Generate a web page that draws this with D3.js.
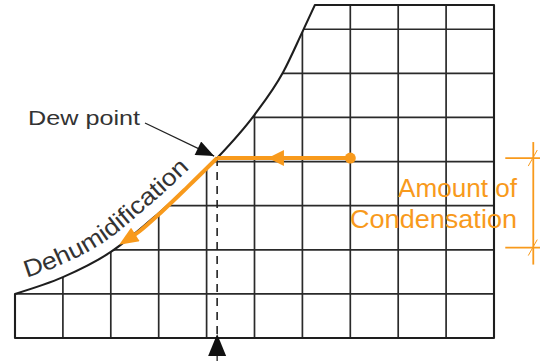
<!DOCTYPE html>
<html>
<head>
<meta charset="utf-8">
<script src="https://cdn.jsdelivr.net/npm/d3@7"></script>
<style>
  html, body { margin: 0; padding: 0; background: #fff; }
  svg { display: block; }
</style>
</head>
<body>
<script>
// grid of the chart, in chart units
const gridCols = [0, 1, 2, 3, 4, 5, 6, 7, 8, 9, 10];
const gridRows = [0, 1, 2, 3, 4, 5, 6, 7];
const topRow = 7.55;

// saturation curve
const satX = [0, 1, 2, 3, 3.6, 4.22, 5, 5.6, 6, 6.26];
const satY = [1.0, 1.38, 1.95, 2.83, 3.42, 4.08, 5.06, 6.03, 6.94, 7.55];

// cooling path: start point -> dew point -> along the curve
const dewPoint = { x: 4.22, y: 4.08 };
const startPoint = { x: 7, y: 4.08 };
const midArrowX = 5.28;
const dehumX = [4.22, 3.6, 3.03, 2.6, 2.4];
const dehumY = [4.08, 3.42, 2.83, 2.42, 2.27];

// amount of condensation (humidity from / to)
const condensY = [4.08, 2.05];
const dimX = 10.82;

const width = 540;
const height = 361;
const orange = "#f89a1c";

const x = d3.scaleLinear().domain([0, 10]).range([15, 494]);
const y = d3.scaleLinear().domain([0, topRow]).range([338, 5]);

const svg = d3.select("body").append("svg")
  .attr("width", width)
  .attr("height", height)
  .style("font-family", "'Liberation Sans', Arial, sans-serif");

const defs = svg.append("defs");

const satPoints = satX.map((d, i) => [d, satY[i]]);
const satLine = d3.line().x(d => x(d[0])).y(d => y(d[1])).curve(d3.curveMonotoneX);

// outline = area under the curve
const clipD = "M" + x(0) + "," + y(0) + "L" + x(0) + "," + y(satY[0]) +
  satLine(satPoints).slice(1).replace(/^[\d.,-]+/, m => "L" + m) +
  "L" + x(10) + "," + y(topRow) + "L" + x(10) + "," + y(0) + "Z";

defs.append("clipPath").attr("id", "area")
  .append("path").attr("d", clipD);

const grid = svg.append("g").attr("clip-path", "url(#area)")
  .attr("stroke", "#2a2a2a").attr("stroke-width", 1.7);

grid.selectAll("line.col").data(gridCols.slice(1, -1)).enter().append("line")
  .attr("class", "col")
  .attr("x1", d => x(d)).attr("x2", d => x(d))
  .attr("y1", y(0)).attr("y2", y(topRow));

grid.selectAll("line.row").data(gridRows.slice(1)).enter().append("line")
  .attr("class", "row")
  .attr("x1", x(0)).attr("x2", x(10))
  .attr("y1", d => y(d)).attr("y2", d => y(d));

// border and saturation curve
svg.append("path")
  .attr("d", clipD)
  .attr("fill", "none")
  .attr("stroke", "#1e1e1e")
  .attr("stroke-width", 2.1)
  .attr("stroke-linejoin", "round");

// dashed dew point line
svg.append("line")
  .attr("x1", x(dewPoint.x)).attr("x2", x(dewPoint.x))
  .attr("y1", y(dewPoint.y)).attr("y2", y(0) + 4)
  .attr("stroke", "#222")
  .attr("stroke-width", 1.6)
  .attr("stroke-dasharray", "8,6");

// arrow under the axis
svg.append("path")
  .attr("d", `M${x(dewPoint.x)},${y(0) - 4} L${x(dewPoint.x) - 9},${y(0) + 18} L${x(dewPoint.x) + 9},${y(0) + 18} Z`)
  .attr("fill", "#111");
svg.append("line")
  .attr("x1", x(dewPoint.x)).attr("x2", x(dewPoint.x))
  .attr("y1", y(0) + 18).attr("y2", height)
  .attr("stroke", "#111").attr("stroke-width", 1.2);

// Dehumidification text along the curve
const satPath = svg.append("path").attr("d", satLine(satPoints)).attr("fill", "none").attr("stroke", "none");
const total = satPath.node().getTotalLength();
const offsetPts = [];
for (let s = 0; s <= total; s += 2) {
  const p0 = satPath.node().getPointAtLength(Math.max(0, s - 2));
  const p1 = satPath.node().getPointAtLength(Math.min(total, s + 2));
  const p = satPath.node().getPointAtLength(s);
  const dx = p1.x - p0.x, dy = p1.y - p0.y;
  const len = Math.hypot(dx, dy) || 1;
  const q = [p.x + (dy / len) * 12, p.y + (-dx / len) * 12];
  if (q[0] >= 26 && q[0] <= 190) offsetPts.push(q);
}
const textPath = defs.append("path").attr("id", "dehumPath").attr("d", d3.line()(offsetPts));
const textLen = textPath.node().getTotalLength();

svg.append("text")
  .attr("font-size", 24)
  .attr("fill", "#333")
  .append("textPath")
  .attr("href", "#dehumPath")
  .attr("textLength", textLen)
  .attr("lengthAdjust", "spacingAndGlyphs")
  .text("Dehumidification");

// orange cooling path
defs.append("marker")
  .attr("id", "orangeHead")
  .attr("viewBox", "0 0 12 10")
  .attr("refX", 4).attr("refY", 5)
  .attr("markerUnits", "userSpaceOnUse")
  .attr("markerWidth", 20).attr("markerHeight", 16)
  .attr("orient", "auto")
  .append("path").attr("d", "M0,0 L12,5 L0,10 Z").attr("fill", orange);

svg.append("line")
  .attr("x1", x(startPoint.x)).attr("x2", x(dewPoint.x))
  .attr("y1", y(startPoint.y)).attr("y2", y(dewPoint.y))
  .attr("stroke", orange).attr("stroke-width", 4);

svg.append("path")
  .attr("d", `M${x(midArrowX)},${y(startPoint.y)} L${x(midArrowX) + 16},${y(startPoint.y) - 8} L${x(midArrowX) + 16},${y(startPoint.y) + 8} Z`)
  .attr("fill", orange);

svg.append("circle")
  .attr("cx", x(startPoint.x)).attr("cy", y(startPoint.y)).attr("r", 5.5)
  .attr("fill", orange);

svg.append("path")
  .attr("d", d3.line().x(d => x(d[0])).y(d => y(d[1])).curve(d3.curveCatmullRom)(dehumX.map((d, i) => [d, dehumY[i]])))
  .attr("fill", "none")
  .attr("stroke", orange)
  .attr("stroke-width", 4)
  .attr("marker-end", "url(#orangeHead)");

// Dew point label and leader
defs.append("marker")
  .attr("id", "blackHead")
  .attr("viewBox", "0 0 12 10")
  .attr("refX", 12).attr("refY", 5)
  .attr("markerUnits", "userSpaceOnUse")
  .attr("markerWidth", 19).attr("markerHeight", 15)
  .attr("orient", "auto")
  .append("path").attr("d", "M0,0 L12,5 L0,10 Z").attr("fill", "#111");

svg.append("line")
  .attr("x1", 145).attr("y1", 123)
  .attr("x2", x(dewPoint.x) - 3).attr("y2", y(dewPoint.y) - 2)
  .attr("stroke", "#222").attr("stroke-width", 1.3)
  .attr("marker-end", "url(#blackHead)");

svg.append("text")
  .attr("x", 28).attr("y", 125)
  .attr("font-size", 20)
  .attr("fill", "#333")
  .attr("textLength", 112)
  .attr("lengthAdjust", "spacingAndGlyphs")
  .text("Dew point");

// amount of condensation dimension
const dim = svg.append("g").attr("stroke", orange);
dim.append("line")
  .attr("x1", x(dimX)).attr("x2", x(dimX))
  .attr("y1", y(condensY[0]) - 16).attr("y2", y(condensY[1]) + 17)
  .attr("stroke-width", 1.8);
dim.selectAll("line.tick").data(condensY).enter().append("line")
  .attr("class", "tick")
  .attr("x1", x(dimX) - 28).attr("x2", width)
  .attr("y1", d => y(d)).attr("y2", d => y(d))
  .attr("stroke-width", 1.8);
dim.selectAll("line.slash").data(condensY).enter().append("line")
  .attr("class", "slash")
  .attr("x1", x(dimX) - 5).attr("x2", x(dimX) + 4)
  .attr("y1", d => y(d) + 8).attr("y2", d => y(d) - 8)
  .attr("stroke-width", 1);

svg.append("text")
  .attr("x", 517).attr("y", 197)
  .attr("text-anchor", "end")
  .attr("font-size", 25)
  .attr("fill", orange)
  .attr("textLength", 119)
  .attr("lengthAdjust", "spacingAndGlyphs")
  .text("Amount of");

svg.append("text")
  .attr("x", 517).attr("y", 228)
  .attr("text-anchor", "end")
  .attr("font-size", 25)
  .attr("fill", orange)
  .attr("textLength", 167)
  .attr("lengthAdjust", "spacingAndGlyphs")
  .text("Condensation");
</script>
</body>
</html>
